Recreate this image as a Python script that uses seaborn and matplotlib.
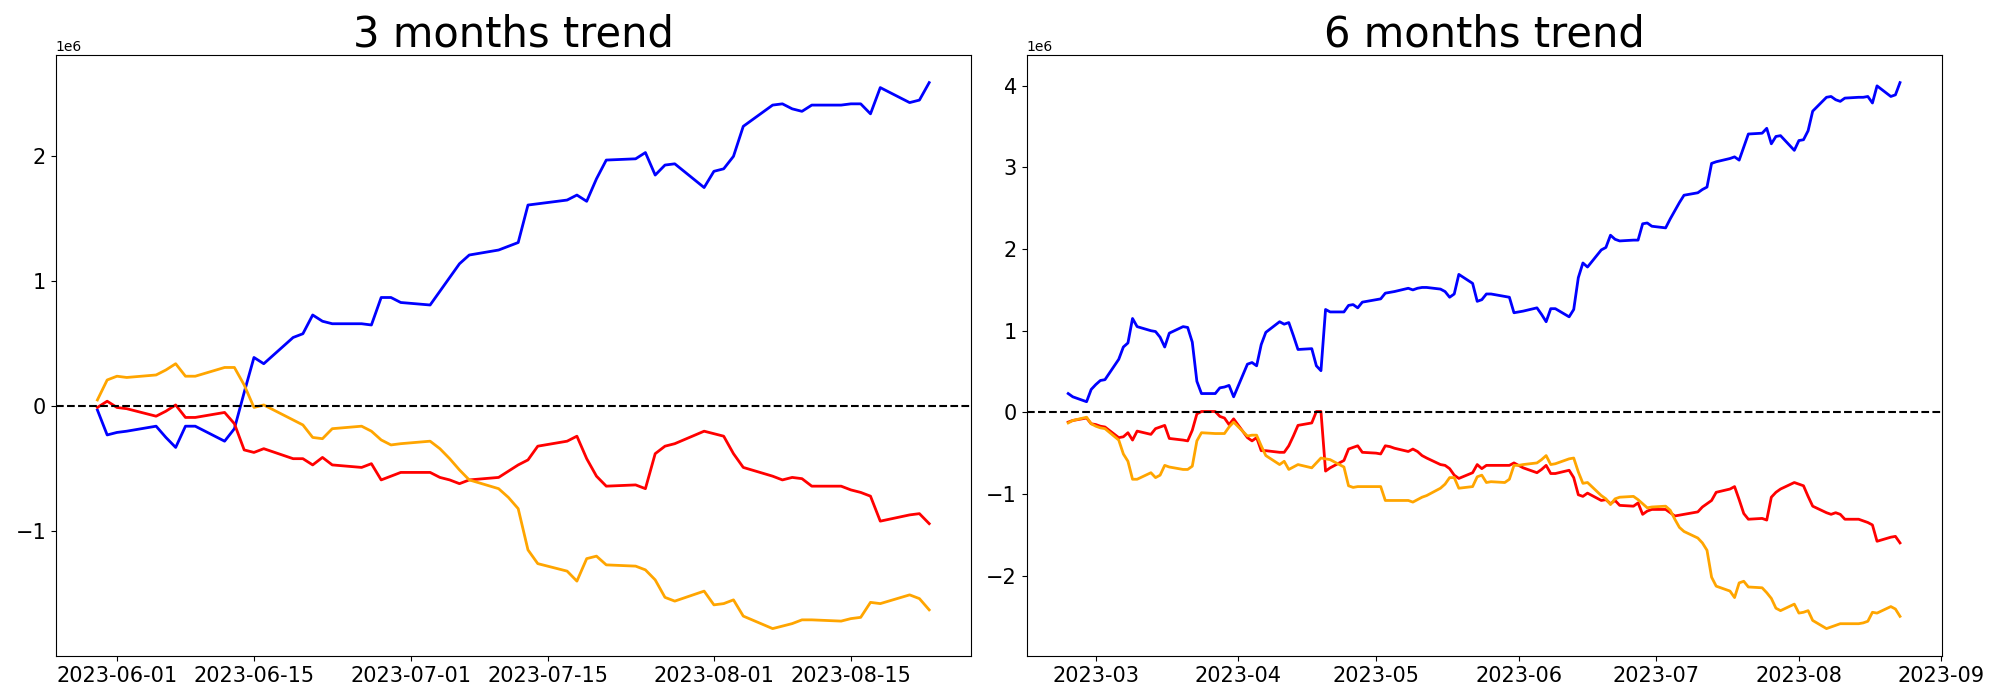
import numpy as np
import pandas as pd
import seaborn as sns
import matplotlib.pyplot as plt

# cumulative values, in millions
dates_3m = pd.bdate_range("2023-05-30", "2023-08-23")
blue_3m = [-0.03, -0.23, -0.21, -0.20, -0.16, -0.25, -0.33, -0.16, -0.16, -0.28, -0.18, 0.11, 0.39, 0.34,
           0.55, 0.58, 0.73, 0.68, 0.66, 0.66, 0.65, 0.87, 0.87, 0.83,
           0.81, 0.92, 1.03, 1.14, 1.21, 1.25, 1.28, 1.31, 1.61, 1.62, 1.65, 1.69, 1.64, 1.82, 1.97,
           1.98, 2.03, 1.85, 1.93, 1.94, 1.75,
           1.88, 1.90, 2.00, 2.24, 2.41, 2.42, 2.38, 2.36, 2.41, 2.41, 2.42, 2.42, 2.34, 2.55, 2.43, 2.45, 2.59]
red_3m = [-0.01, 0.04, -0.01, -0.02, -0.08, -0.04, 0.01, -0.09, -0.09, -0.05, -0.14, -0.35, -0.37, -0.34,
          -0.42, -0.42, -0.47, -0.41, -0.47, -0.49, -0.46, -0.59, -0.56, -0.53,
          -0.53, -0.57, -0.59, -0.62, -0.59, -0.57, -0.52, -0.47, -0.43, -0.32, -0.28, -0.24, -0.42, -0.56, -0.64,
          -0.63, -0.66, -0.38, -0.32, -0.30, -0.20,
          -0.22, -0.24, -0.38, -0.49, -0.56, -0.59, -0.57, -0.58, -0.64, -0.64, -0.67, -0.69, -0.72, -0.92, -0.87, -0.86, -0.94]
orange_3m = [0.05, 0.21, 0.24, 0.23, 0.25, 0.29, 0.34, 0.24, 0.24, 0.31, 0.31, 0.17, -0.01, 0.01,
             -0.11, -0.15, -0.25, -0.26, -0.18, -0.16, -0.20, -0.27, -0.31, -0.30,
             -0.28, -0.34, -0.42, -0.51, -0.59, -0.66, -0.73, -0.82, -1.15, -1.26, -1.32, -1.40, -1.22, -1.20, -1.27,
             -1.28, -1.31, -1.39, -1.53, -1.56, -1.48,
             -1.59, -1.58, -1.55, -1.68, -1.78, -1.76, -1.74, -1.71, -1.71, -1.72, -1.70, -1.69, -1.57, -1.58, -1.51, -1.54, -1.63]

dates_6m = pd.bdate_range("2023-02-23", "2023-08-23")
blue_6m = [0.23, 0.19, 0.13, 0.28,
           0.34, 0.39, 0.40, 0.65, 0.80, 0.85, 1.15, 1.05, 1.00, 0.99, 0.92, 0.80, 0.97, 1.05, 1.04, 0.86, 0.38,
           0.23, 0.23, 0.30, 0.31, 0.33, 0.19,
           0.59, 0.61, 0.57, 0.83, 0.98, 1.11, 1.08, 1.10, 0.94, 0.77, 0.78, 0.57, 0.51, 1.26, 1.23, 1.23, 1.31,
           1.32, 1.28, 1.35,
           1.38, 1.39, 1.46, 1.47, 1.48, 1.52, 1.50, 1.52, 1.53, 1.53, 1.51, 1.48, 1.41, 1.45, 1.69, 1.58, 1.36,
           1.38, 1.45, 1.45, 1.42, 1.41, 1.22,
           1.23, 1.24, 1.28, 1.20, 1.11, 1.27, 1.27, 1.17, 1.26, 1.65, 1.83, 1.78, 1.99, 2.02, 2.17, 2.12, 2.10,
           2.11, 2.11, 2.31, 2.32, 2.28,
           2.26, 2.37, 2.47, 2.57, 2.66, 2.69, 2.73, 2.76, 3.05, 3.07, 3.11, 3.13, 3.09, 3.25, 3.41, 3.42, 3.48,
           3.29, 3.38, 3.39, 3.21,
           3.33, 3.34, 3.45, 3.69, 3.86, 3.87, 3.83, 3.81, 3.85, 3.86, 3.86, 3.87, 3.79, 4.00, 3.87, 3.89, 4.04]
red_6m = [-0.12, -0.10, -0.07, -0.14,
          -0.15, -0.17, -0.18, -0.31, -0.30, -0.25, -0.34, -0.23, -0.27, -0.20, -0.18, -0.16, -0.32, -0.34, -0.35,
          -0.22, -0.02, 0.01, 0.01, -0.05, -0.07, -0.15, -0.08,
          -0.31, -0.35, -0.31, -0.47, -0.47, -0.49, -0.49, -0.41, -0.29, -0.16, -0.13, 0.01, 0.01, -0.72, -0.68,
          -0.59, -0.45, -0.43, -0.41, -0.49,
          -0.50, -0.51, -0.41, -0.42, -0.44, -0.48, -0.45, -0.48, -0.53, -0.56, -0.64, -0.65, -0.69, -0.77, -0.81,
          -0.74, -0.64, -0.69, -0.65, -0.65, -0.65, -0.65, -0.62,
          -0.65, -0.68, -0.74, -0.70, -0.65, -0.75, -0.75, -0.71, -0.80, -1.01, -1.03, -0.99, -1.08, -1.07, -1.12,
          -1.08, -1.14, -1.15, -1.11, -1.25, -1.21, -1.19,
          -1.19, -1.23, -1.27, -1.26, -1.25, -1.22, -1.16, -1.12, -1.08, -0.98, -0.94, -0.91, -1.07, -1.24, -1.31,
          -1.30, -1.32, -1.04, -0.98, -0.94, -0.86,
          -0.88, -0.90, -1.03, -1.15, -1.23, -1.25, -1.23, -1.25, -1.31, -1.31, -1.33, -1.35, -1.38, -1.58, -1.53,
          -1.52, -1.60]
orange_6m = [-0.13, -0.10, -0.06, -0.14,
             -0.17, -0.19, -0.20, -0.34, -0.51, -0.60, -0.82, -0.82, -0.74, -0.80, -0.77, -0.65, -0.67, -0.70,
             -0.70, -0.66, -0.35, -0.25, -0.26, -0.26, -0.26, -0.18, -0.12,
             -0.29, -0.28, -0.28, -0.41, -0.53, -0.64, -0.60, -0.70, -0.67, -0.64, -0.68, -0.62, -0.56, -0.57,
             -0.58, -0.67, -0.90, -0.92, -0.91, -0.91,
             -0.91, -0.91, -1.08, -1.08, -1.08, -1.08, -1.10, -1.07, -1.04, -1.02, -0.93, -0.88, -0.80, -0.80,
             -0.93, -0.91, -0.79, -0.77, -0.86, -0.85, -0.86, -0.82, -0.65,
             -0.65, -0.64, -0.62, -0.58, -0.53, -0.64, -0.63, -0.57, -0.56, -0.73, -0.87, -0.86, -1.02, -1.06,
             -1.13, -1.06, -1.04, -1.03, -1.07, -1.12, -1.17, -1.16,
             -1.15, -1.20, -1.31, -1.41, -1.46, -1.54, -1.60, -1.69, -2.02, -2.13, -2.19, -2.27, -2.09, -2.07,
             -2.14, -2.15, -2.21, -2.28, -2.40, -2.43, -2.35,
             -2.46, -2.45, -2.43, -2.55, -2.65, -2.63, -2.61, -2.59, -2.59, -2.59, -2.58, -2.56, -2.45, -2.46,
             -2.38, -2.41, -2.50]

panels = [("3 months trend", dates_3m, blue_3m, red_3m, orange_3m),
          ("6 months trend", dates_6m, blue_6m, red_6m, orange_6m)]

fig, axes = plt.subplots(1, 2, figsize=(20, 7), dpi=100)

for ax, (title, dates, blue, red, orange) in zip(axes, panels):
    for vals, col in [(blue, "blue"), (red, "red"), (orange, "orange")]:
        sns.lineplot(x=dates, y=np.array(vals) * 1e6, color=col, linewidth=2, ax=ax)
    ax.axhline(0, color="black", linestyle="--", linewidth=1.5)
    ax.set_title(title, fontsize=30)
    ax.tick_params(labelsize=15)
    ax.set_xlabel("")
    ax.set_ylabel("")

fig.subplots_adjust(left=0.0279, right=0.9708, bottom=0.063, top=0.921, wspace=0.061)
plt.savefig("out.png")
